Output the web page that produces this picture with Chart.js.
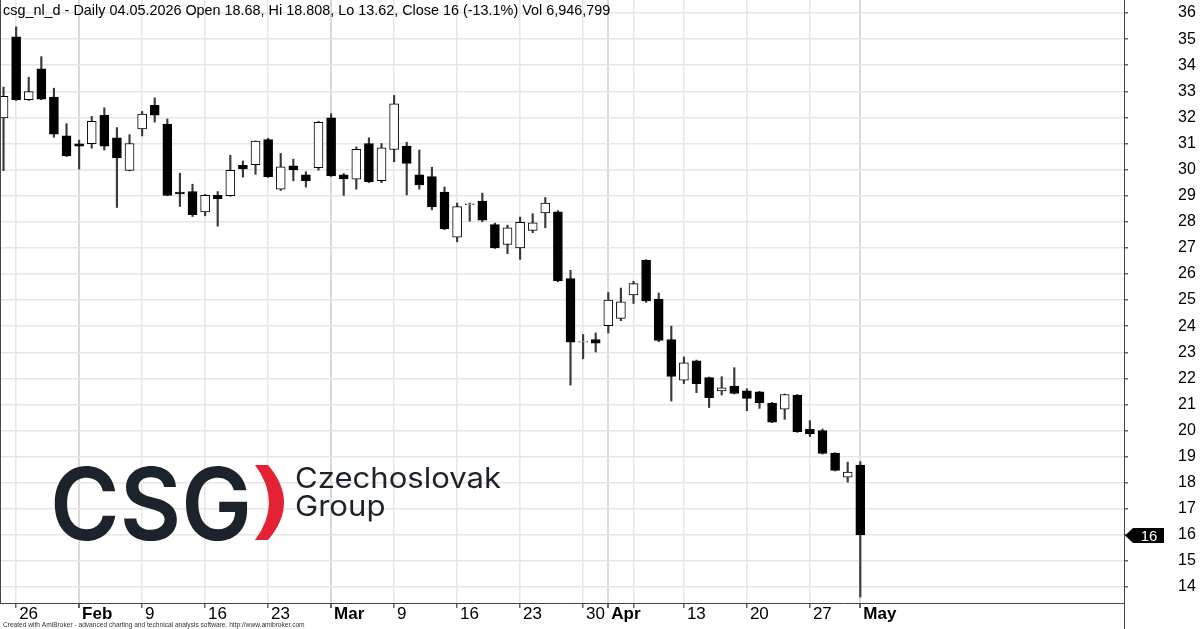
<!DOCTYPE html>
<html>
<head>
<meta charset="utf-8">
<title>csg_nl_d</title>
<script src="https://cdn.jsdelivr.net/npm/chart.js@4.4.1/dist/chart.umd.min.js"></script>
<style>
    html, body { margin: 0; padding: 0; background: #fff; }
    #chart { display: block; }
</style>
</head>
<body>
<canvas id="chart" width="1200" height="629"></canvas>
<script>
// Trading days, 23.01.2026 - 04.05.2026
const dates = [
    'Jan 23', 'Jan 26', 'Jan 27', 'Jan 28', 'Jan 29', 'Jan 30',
    'Feb 2', 'Feb 3', 'Feb 4', 'Feb 5', 'Feb 6', 'Feb 9', 'Feb 10', 'Feb 11', 'Feb 12', 'Feb 13',
    'Feb 16', 'Feb 17', 'Feb 18', 'Feb 19', 'Feb 20', 'Feb 23', 'Feb 24', 'Feb 25', 'Feb 26', 'Feb 27',
    'Mar 2', 'Mar 3', 'Mar 4', 'Mar 5', 'Mar 6', 'Mar 9', 'Mar 10', 'Mar 11', 'Mar 12', 'Mar 13',
    'Mar 16', 'Mar 17', 'Mar 18', 'Mar 19', 'Mar 20', 'Mar 23', 'Mar 24', 'Mar 25', 'Mar 26', 'Mar 27',
    'Mar 30', 'Mar 31', 'Apr 1', 'Apr 2', 'Apr 7', 'Apr 8', 'Apr 9', 'Apr 10',
    'Apr 13', 'Apr 14', 'Apr 15', 'Apr 16', 'Apr 17', 'Apr 20', 'Apr 21', 'Apr 22', 'Apr 23', 'Apr 24',
    'Apr 27', 'Apr 28', 'Apr 29', 'Apr 30', 'May 4'
];

const openPrices = [
    31.98, 35.09, 32.68, 33.86, 32.78, 31.29,
    30.99, 30.99, 32.08, 31.22, 29.97, 31.56, 32.46, 31.74, 29.14, 29.16,
    28.38, 29.01, 29.00, 30.16, 30.19, 31.15, 29.25, 30.14, 29.80, 30.07,
    31.98, 29.80, 29.63, 31.00, 29.58, 30.77, 30.90, 29.80, 29.73, 29.14,
    27.41, 28.66, 28.79, 27.89, 27.13, 27.00, 27.67, 28.34, 28.38, 25.82,
    23.39, 23.49, 24.02, 24.30, 25.20, 26.52, 25.04, 23.49,
    21.93, 22.67, 22.03, 21.52, 21.70, 21.52, 21.48, 21.04, 20.82, 21.36,
    20.05, 20.00, 19.14, 18.21, 18.68
];
const highPrices = [
    33.16, 35.47, 33.54, 34.33, 33.12, 31.76,
    31.13, 32.04, 32.37, 31.61, 31.34, 32.23, 32.75, 31.94, 29.86, 29.44,
    29.05, 29.16, 30.55, 30.33, 31.10, 31.20, 30.62, 30.40, 29.92, 31.85,
    32.14, 29.85, 30.87, 31.22, 31.00, 32.84, 31.05, 30.75, 30.09, 29.33,
    28.72, 28.72, 29.10, 27.95, 27.87, 28.18, 28.31, 28.93, 28.43, 26.14,
    23.68, 23.74, 25.29, 25.46, 25.72, 26.55, 25.27, 24.00,
    22.82, 22.70, 22.05, 22.06, 22.41, 21.60, 21.50, 21.08, 21.40, 21.38,
    20.38, 20.06, 19.15, 18.79, 18.808
];
const lowPrices = [
    29.96, 32.65, 32.65, 32.68, 31.24, 30.50,
    30.02, 30.82, 30.75, 28.55, 29.95, 31.29, 31.82, 29.00, 28.59, 28.20,
    28.23, 27.83, 28.98, 29.71, 29.82, 29.70, 29.20, 29.57, 29.33, 29.98,
    29.74, 29.01, 29.25, 29.50, 29.50, 30.30, 29.03, 29.25, 28.46, 27.70,
    27.23, 28.02, 28.00, 26.98, 26.78, 26.56, 27.58, 27.77, 25.70, 21.74,
    22.75, 23.01, 23.74, 24.21, 24.87, 24.91, 23.40, 21.13,
    21.80, 21.45, 20.88, 21.36, 21.40, 20.76, 20.85, 20.30, 20.43, 19.93,
    19.77, 19.10, 18.45, 18.02, 13.62
];
const closePrices = [
    32.81, 32.68, 32.99, 32.70, 31.36, 30.52,
    30.90, 31.85, 30.90, 30.45, 31.00, 32.13, 32.09, 29.01, 29.07, 28.27,
    29.01, 28.89, 29.97, 30.03, 31.09, 29.73, 30.11, 29.99, 29.58, 31.81,
    29.76, 29.64, 30.78, 29.54, 30.83, 32.52, 30.24, 29.41, 28.57, 27.73,
    28.58, 28.69, 28.06, 27.00, 27.77, 27.98, 27.96, 28.72, 25.73, 23.39,
    23.41, 23.35, 25.00, 24.93, 25.63, 24.97, 23.45, 22.07,
    22.59, 21.80, 21.26, 21.64, 21.42, 21.23, 21.07, 20.32, 21.38, 19.96,
    19.87, 19.12, 18.47, 18.41, 16.00
];

// Date axis: bar index of each tick and its label
const xTickIndex = [1, 6, 11, 16, 21, 26, 31, 36, 41, 46, 48, 50, 54, 59, 64, 68];
const xTickText = ['26', 'Feb', '9', '16', '23', 'Mar', '9', '16', '23', '30', 'Apr', '', '13', '20', '27', 'May'];
const monthTicks = ['Feb', 'Mar', 'Apr', 'May'];

const yTicks = [14, 15, 16, 17, 18, 19, 20, 21, 22, 23, 24, 25, 26, 27, 28, 29, 30, 31, 32, 33, 34, 35, 36];

const titleText = 'csg_nl_d - Daily 04.05.2026 Open 18.68, Hi 18.808, Lo 13.62, Close 16 (-13.1%) Vol 6,946,799';
const footerText = 'Created with AmiBroker - advanced charting and technical analysis software. http://www.amibroker.com';

const FONT = "'Liberation Sans', Arial, sans-serif";

document.addEventListener('DOMContentLoaded', function() {
    const bodies = dates.map((d, i) => ({ x: i, y: [openPrices[i], closePrices[i]] }));
    const wicks = dates.map((d, i) => ({ x: i, y: [lowPrices[i], highPrices[i]] }));
    const isUp = i => closePrices[i] >= openPrices[i];

    // no label padding around the plot, AmiBroker style
    function noPadding(scale) {
        scale.paddingTop = 0;
        scale.paddingBottom = 0;
        scale.paddingLeft = 0;
        scale.paddingRight = 0;
    }

    // Logo, title, footer, frame and last price marker
    const overlayPlugin = {
        id: 'overlay',
        beforeDatasetsDraw(chart) {
            const ctx = chart.ctx;
            ctx.save();
            ctx.fillStyle = '#1d232b';
            ctx.textBaseline = 'alphabetic';
            ctx.font = "600 101px Inter, 'Noto Sans', sans-serif";
            ctx.fillText('CSG', 50, 540, 202);

            // red bracket
            ctx.fillStyle = '#e52134';
            ctx.beginPath();
            ctx.moveTo(255, 465);
            ctx.lineTo(268, 465);
            ctx.quadraticCurveTo(300, 502.5, 268, 540);
            ctx.lineTo(255, 540);
            ctx.quadraticCurveTo(283, 502.5, 255, 465);
            ctx.closePath();
            ctx.fill();

            ctx.fillStyle = '#1d232b';
            ctx.font = "400 28px Inter, 'Noto Sans', sans-serif";
            ctx.save();
            ctx.translate(295, 0);
            ctx.scale(1.11, 1);
            ctx.fillText('Czechoslovak', 0, 488);
            ctx.fillText('Group', 0, 516);
            ctx.restore();
            ctx.restore();
        },
        afterDraw(chart) {
            const ctx = chart.ctx;
            const area = chart.chartArea;
            const y = chart.scales.y;
            ctx.save();

            // frame lines
            ctx.strokeStyle = '#444';
            ctx.lineWidth = 1;
            ctx.beginPath();
            ctx.moveTo(0.5, area.top);
            ctx.lineTo(0.5, area.bottom);
            ctx.moveTo(area.right + 0.5, area.top);
            ctx.lineTo(area.right + 0.5, chart.height);
            ctx.stroke();

            // title
            ctx.fillStyle = '#000';
            ctx.font = '14.4px ' + FONT;
            ctx.textBaseline = 'alphabetic';
            ctx.textAlign = 'left';
            ctx.fillText(titleText, 3, 15);

            // footer
            ctx.fillStyle = '#333';
            ctx.font = '6.6px ' + FONT;
            ctx.fillText(footerText, 3, 627);

            // last close marker
            const last = closePrices[closePrices.length - 1];
            const py = Math.round(y.getPixelForValue(last)) + 0.5;
            const x0 = area.right + 1;
            ctx.fillStyle = '#000';
            ctx.beginPath();
            ctx.moveTo(x0, py);
            ctx.lineTo(x0 + 8, py - 7.5);
            ctx.lineTo(x0 + 39, py - 7.5);
            ctx.lineTo(x0 + 39, py + 7.5);
            ctx.lineTo(x0 + 8, py + 7.5);
            ctx.closePath();
            ctx.fill();
            ctx.fillStyle = '#fff';
            ctx.font = '15px ' + FONT;
            ctx.textAlign = 'center';
            ctx.textBaseline = 'middle';
            ctx.fillText(String(last), x0 + 24, py + 1);
            ctx.restore();
        }
    };

    new Chart(document.getElementById('chart'), {
        type: 'bar',
        data: {
            datasets: [
                {
                    label: 'Body',
                    data: bodies,
                    order: 0,
                    grouped: false,
                    barThickness: 9,
                    borderWidth: 1,
                    borderSkipped: false,
                    borderColor: '#000',
                    backgroundColor: ctx => isUp(ctx.dataIndex) ? '#fff' : '#000'
                },
                {
                    label: 'Wick',
                    data: wicks,
                    order: 1,
                    grouped: false,
                    barThickness: 1.5,
                    borderWidth: 0,
                    backgroundColor: '#3a3a3a'
                }
            ]
        },
        options: {
            responsive: false,
            animation: false,
            devicePixelRatio: 1,
            layout: { padding: 0 },
            plugins: {
                legend: { display: false },
                tooltip: { enabled: false }
            },
            scales: {
                x: {
                    type: 'linear',
                    offset: false,
                    min: -0.28,
                    max: 88.93,
                    afterBuildTicks: scale => {
                        scale.ticks = xTickIndex.map(v => ({ value: v }));
                    },
                    afterFit: scale => {
                        scale.height = 26;
                        noPadding(scale);
                    },
                    grid: {
                        offset: false,
                        drawTicks: true,
                        tickLength: 5,
                        tickColor: '#666',
                        lineWidth: ctx => monthTicks.includes(xTickText[ctx.index]) ? 2 : 1.5,
                        color: ctx => monthTicks.includes(xTickText[ctx.index]) ? '#dadada' : '#e6e6e6'
                    },
                    border: { display: true, color: '#444', width: 1 },
                    ticks: {
                        autoSkip: false,
                        maxRotation: 0,
                        align: 'start',
                        labelOffset: 3,
                        padding: -4,
                        color: '#000',
                        font: ctx => ({
                            family: FONT,
                            size: 17,
                            weight: monthTicks.includes(xTickText[ctx.index]) ? 'bold' : 'normal'
                        }),
                        callback: (value, index) => xTickText[index]
                    }
                },
                y: {
                    type: 'linear',
                    position: 'right',
                    min: 13.39,
                    max: 36.5,
                    afterBuildTicks: scale => {
                        scale.ticks = yTicks.map(v => ({ value: v }));
                    },
                    afterFit: scale => {
                        scale.width = 76;
                        noPadding(scale);
                    },
                    grid: {
                        drawTicks: true,
                        tickLength: 4,
                        tickColor: '#666',
                        lineWidth: 1.5,
                        color: '#e6e6e6'
                    },
                    border: { display: true, color: '#444', width: 1 },
                    ticks: {
                        padding: 50,
                        color: '#000',
                        font: { family: FONT, size: 16 },
                        callback: value => String(value)
                    }
                }
            }
        },
        plugins: [overlayPlugin]
    });
});
</script>
</body>
</html>
